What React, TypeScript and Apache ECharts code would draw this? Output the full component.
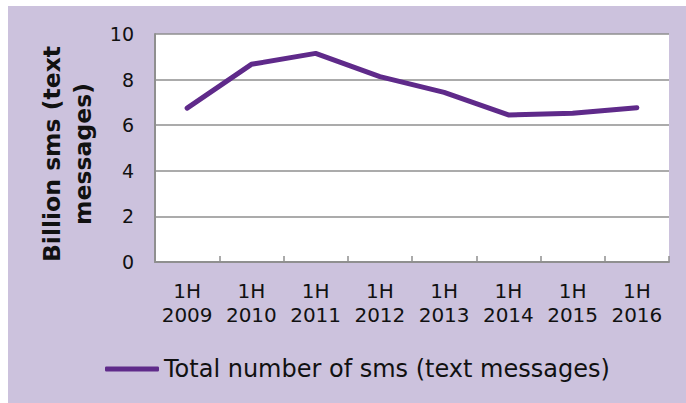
import React, { useEffect, useRef } from "react";
import * as echarts from "echarts";

const categories = ["1H\n2009", "1H\n2010", "1H\n2011", "1H\n2012", "1H\n2013", "1H\n2014", "1H\n2015", "1H\n2016"];
const smsValues = [6.75, 8.67, 9.15, 8.13, 7.44, 6.45, 6.52, 6.77];
const seriesName = "Total number of sms (text messages)";
const yAxisTitle = "Billion sms (text\nmessages)";
const yMin = 0;
const yMax = 10;
const yInterval = 2;

const FONT = "Verdana, 'DejaVu Sans', sans-serif";
const PURPLE = "#5f2a8a";
const BG = "#ccc2dd";
const GRID_GRAY = "#8f8f8f";

export default function App() {
  const ref = useRef<HTMLDivElement>(null);
  useEffect(() => {
    if (!ref.current) return;
    const chart = echarts.init(ref.current, undefined, { renderer: "svg" });
    chart.setOption({
      animation: false,
      backgroundColor: BG,
      textStyle: { fontFamily: FONT },
      grid: {
        left: 147,
        top: 28,
        right: 17,
        bottom: 141,
        show: true,
        backgroundColor: "#ffffff",
        borderWidth: 0,
      },
      legend: {
        show: true,
        left: 92,
        top: 346,
        icon: "roundRect",
        itemWidth: 54,
        itemHeight: 5,
        itemStyle: { color: PURPLE, borderWidth: 0 },
        textStyle: { fontFamily: FONT, fontSize: 24, color: "#111" },
      },
      xAxis: {
        type: "category",
        data: categories,
        boundaryGap: true,
        axisLine: { show: true, lineStyle: { color: GRID_GRAY, width: 2 } },
        axisTick: { show: true, inside: true, length: 6, lineStyle: { color: GRID_GRAY, width: 1.5 } },
        axisLabel: { fontFamily: FONT, fontSize: 20, color: "#111", lineHeight: 24, margin: 17, interval: 0 },
        splitLine: { show: false },
      },
      yAxis: {
        type: "value",
        min: yMin,
        max: yMax,
        interval: yInterval,
        name: yAxisTitle,
        nameLocation: "middle",
        nameRotate: 90,
        nameGap: 48,
        nameTextStyle: { fontFamily: FONT, fontSize: 23.5, fontWeight: "bold", color: "#111", lineHeight: 31, padding: [0, 12, 0, 0] },
        axisLine: { show: true, lineStyle: { color: GRID_GRAY, width: 2 } },
        axisTick: { show: false },
        axisLabel: { fontFamily: FONT, fontSize: 19, color: "#111", margin: 21 },
        splitLine: { show: true, lineStyle: { color: GRID_GRAY, width: 1.5 } },
      },
      series: [
        {
          name: seriesName,
          type: "line",
          data: smsValues,
          symbol: "none",
          color: PURPLE,
          lineStyle: { color: PURPLE, width: 5, cap: "round", join: "round" },
        },
      ],
    });
    return () => chart.dispose();
  }, []);
  return (
    <div
      ref={ref}
      style={{ position: "fixed", left: 8, top: 6, width: 678, height: 397 }}
    />
  );
}
